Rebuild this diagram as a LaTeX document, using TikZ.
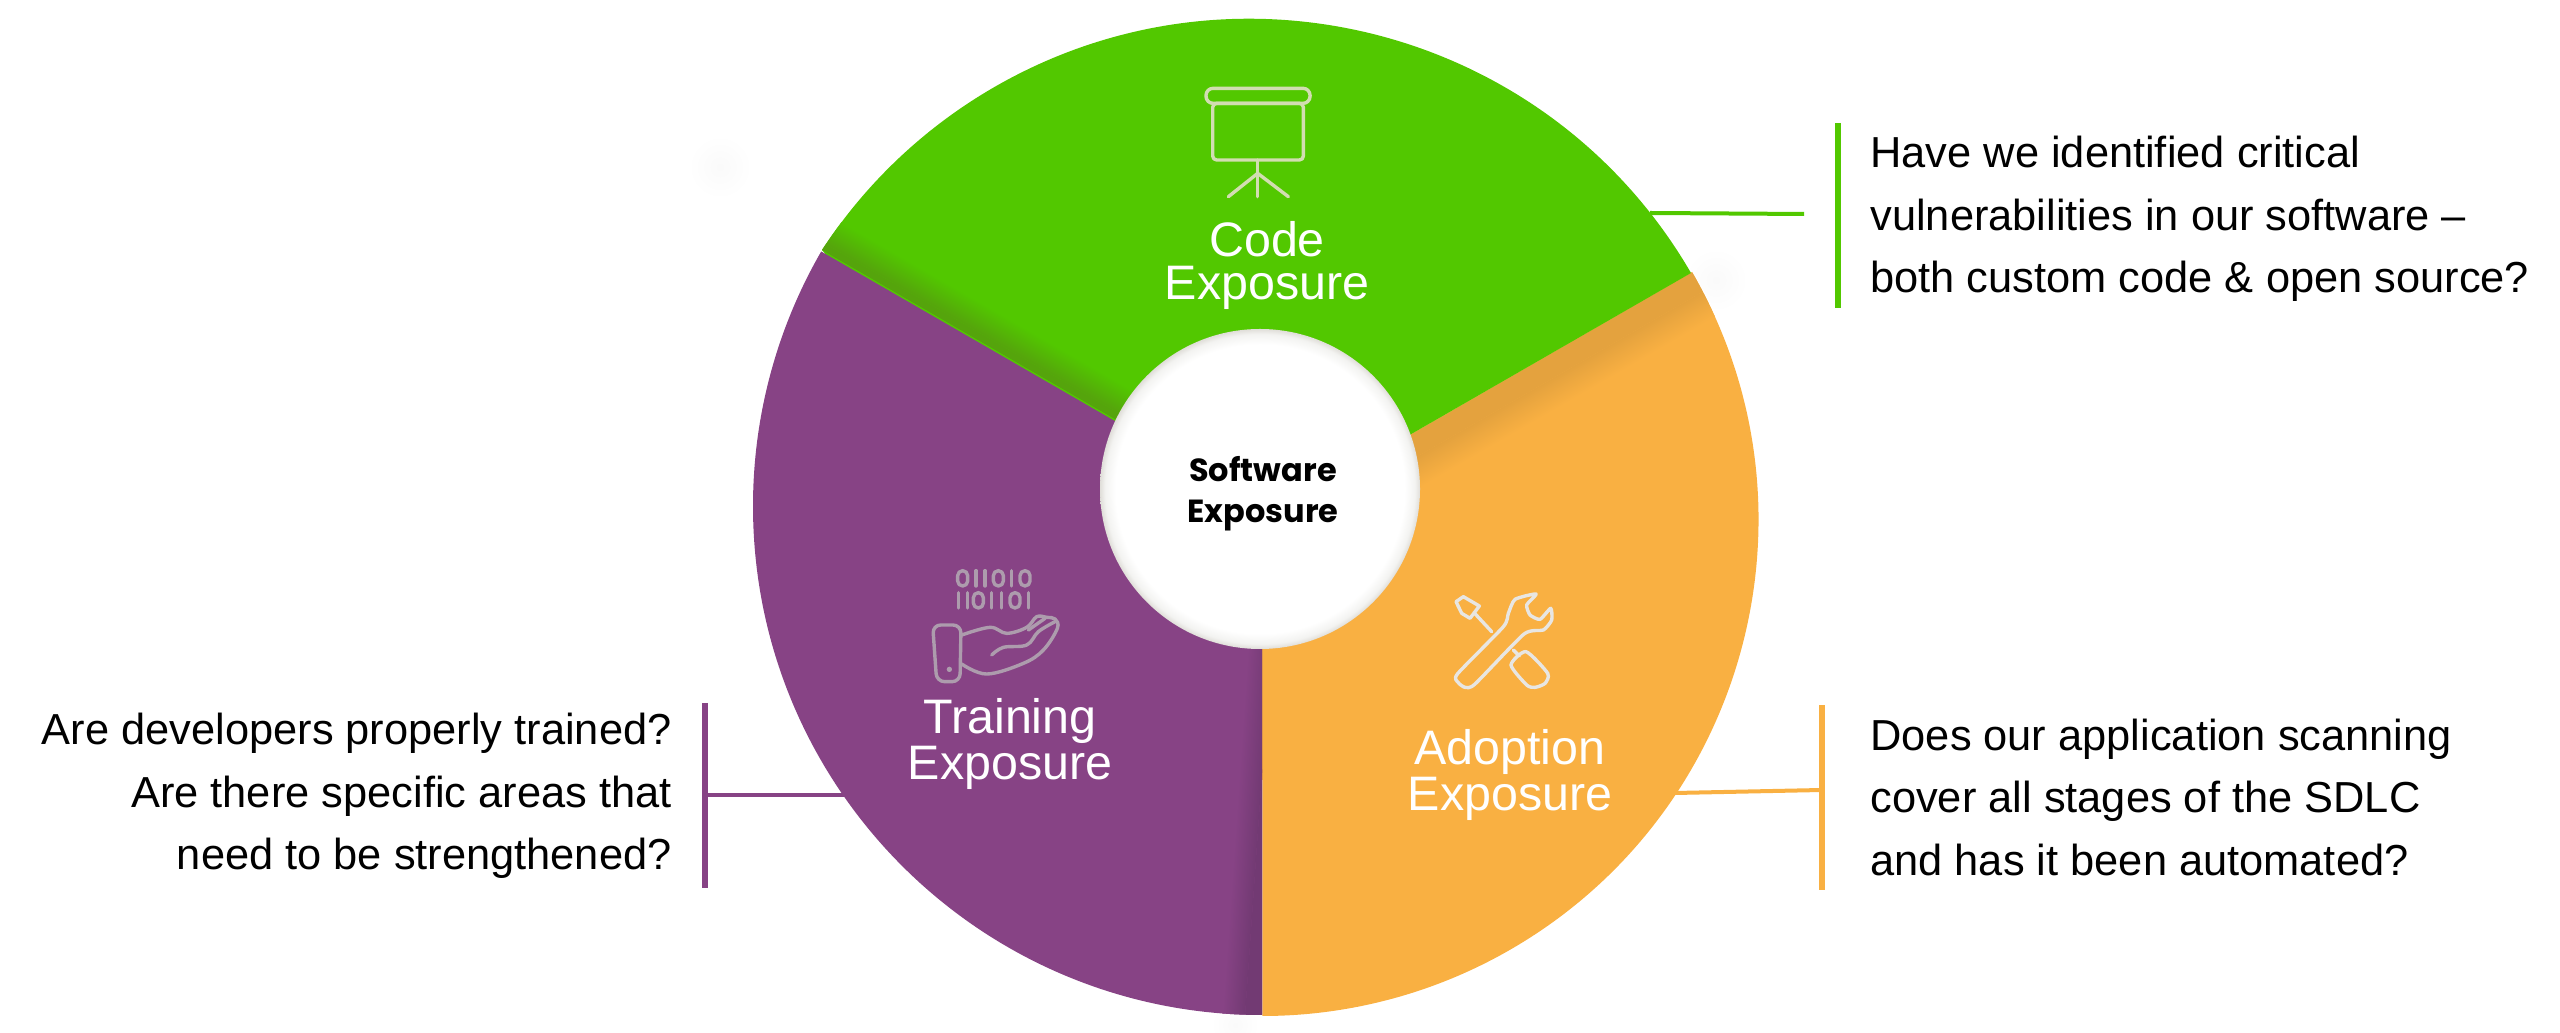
\documentclass[tikz,border=0pt]{standalone}
\usepackage{fontspec}
\setmainfont{Liberation Sans}
\newfontfamily\hubfont{Poppins}
\definecolor{codegreen}{HTML}{52C800}
\definecolor{codedark}{HTML}{55A40C}
\definecolor{trainpurple}{HTML}{874385}
\definecolor{traindark}{HTML}{723A73}
\definecolor{adoptorange}{HTML}{F9B042}
\definecolor{adoptdark}{HTML}{E4A23E}
\definecolor{hubrim}{HTML}{E0DED9}
\definecolor{hubsoft}{HTML}{F3F3F1}
\definecolor{iconcode}{HTML}{D2DDB2}
\definecolor{icontrain}{HTML}{AD9CAD}
\definecolor{iconadopt}{HTML}{E8E6E2}
\pgfdeclareradialshading{hubshade}{\pgfpoint{0bp}{0bp}}{color(0bp)=(white);color(22.6bp)=(white);color(24.2bp)=(hubsoft);color(25bp)=(hubrim);color(50bp)=(hubrim)}
\newcommand{\codepath}{(1262,513) -- (1691,760) arc[start angle=30.15, end angle=146.82, radius=255.35pt] -- (850,750) -- cycle}
\newcommand{\trainpath}{(1262,527) -- (1262,18) arc[start angle=270, end angle=150, radius=254.5pt] -- cycle}
\newcommand{\adoptpath}{(1262,513) -- (1692,761) arc[start angle=30, end angle=-90, radius=248pt] -- cycle}
\begin{document}
\begin{tikzpicture}[
  x=0.5pt, y=0.5pt,
  question/.style={inner sep=0pt, text=black, font=\fontsize{21.7}{31.25}\selectfont},
  sector/.style={inner sep=0pt, text=white, align=center, font=\fontsize{24.2}{21.5}\selectfont},
  bar/.style={line width=2.75pt},
  leader/.style={line width=2pt},
  icon/.style={line width=1.7pt, line join=round, line cap=round},
  halo/.style={inner color=black!2, outer color=white}
]
\useasboundingbox (0,0) rectangle (2560,1033);

% faint smudges round the rim
\shade[halo] (1716,753) circle[radius=32];
\shade[halo] (720,866) circle[radius=32];
\shade[halo] (1235,8) circle[radius=24];

% sectors, each with the shadow along its seam
\fill[adoptorange] \adoptpath;
\begin{scope}
\clip \adoptpath;
\fill[adoptdark, transform canvas={shift={(1691,760)}, rotate=30}] (-700,-22) rectangle (100,0);
\shade[transform canvas={shift={(1691,760)}, rotate=30}, top color=adoptdark, bottom color=adoptorange] (-700,-50) rectangle (100,-22);
\end{scope}

\fill[codegreen] \codepath;
\begin{scope}
\clip \codepath;
\fill[codedark, transform canvas={shift={(822,783)}, rotate=-30}] (-50,0) rectangle (600,7);
\shade[transform canvas={shift={(822,783)}, rotate=-30}, top color=codegreen, bottom color=codedark] (-50,7) rectangle (600,34);
\end{scope}

\fill[trainpurple] \trainpath;
\begin{scope}
\clip \trainpath;
\shade[transform canvas={shift={(1222,18)}, rotate=-4}, left color=trainpurple, right color=traindark] (0,-30) rectangle (23,420);
\fill[traindark, transform canvas={shift={(1222,18)}, rotate=-4}] (23,-30) rectangle (60,420);
\end{scope}

% hub
\node[circle, inner sep=0pt, minimum size=160pt, shading=hubshade] (hub) at (1260,544) {};
\node[align=center, inner sep=0pt, font=\hubfont\bfseries\fontsize{16}{20.5}\selectfont] (hublabel) at (1263,539) {Software\\Exposure};

% sector labels
\node[sector] (codelabel) at (1267,768) {Code\\Exposure};
\node[sector] (trainlabel) at (1010,289) {Training\\Exposure};
\node[sector] (adoptlabel) at (1510,258) {Adoption\\Exposure};

% questions
\node[question, anchor=west, align=left] (codeq) at (1870,814) {Have we identified critical\\vulnerabilities in our software --\\both custom code \& open source?};
\node[question, anchor=east, align=right] (trainq) at (672,237) {Are developers properly trained?\\Are there specific areas that\\need to be strengthened?};
\node[question, anchor=west, align=left] (adoptq) at (1870,236) {Does our application scanning\\cover all stages of the SDLC\\and has it been automated?};

% leaders and bars
\coordinate (codetop) at (1838,910);
\coordinate (codebot) at (1838,725);
\coordinate (codestem) at (1804,819);
\coordinate (coderim) at (1650,820);
\coordinate (traintop) at (705,330);
\coordinate (trainbot) at (705,145);
\coordinate (trainstem) at (705,238);
\coordinate (trainrim) at (845,238);
\coordinate (adopttop) at (1822,328);
\coordinate (adoptbot) at (1822,143);
\coordinate (adoptstem) at (1822,243);
\coordinate (adoptrim) at (1675,240);
\draw[bar, codegreen] (codetop) -- (codebot);
\draw[leader, codegreen] (coderim) -- (codestem);
\draw[bar, trainpurple] (traintop) -- (trainbot);
\draw[leader, trainpurple] (trainstem) -- (trainrim);
\draw[bar, adoptorange] (adopttop) -- (adoptbot);
\draw[leader, adoptorange] (adoptrim) -- (adoptstem);

% projector icon
\begin{scope}[shift={(1100,983)}, x=0.1667pt, y=-0.1667pt, icon, iconcode]
\draw[rounded corners=3.5pt] (318,115) rectangle (630,160);
\draw[rounded corners=2pt] (338,160) rectangle (610,330);
\draw (473,330) -- (473,440);
\draw (385,440) -- (473,370) -- (565,440);
\end{scope}

% binary hand icon
\begin{scope}[shift={(880,493)}, x=0.1667pt, y=-0.1667pt, icon, icontrain]
\foreach \xpos in {248,355,435} \draw[rounded corners=2.5pt] (\xpos-15,92) rectangle (\xpos+15,138);
\foreach \xpos in {288,315,395} \draw (\xpos,92) -- (\xpos,138);
\foreach \xpos in {295,405} \draw[rounded corners=2.5pt] (\xpos-15,158) rectangle (\xpos+15,204);
\foreach \xpos in {235,262,335,365,445} \draw (\xpos,158) -- (\xpos,204);
\draw[rounded corners=4pt] (158,255) -- (243,255) -- (240,425) -- (170,425) -- cycle;
\fill (208,388) circle[radius=8];
\draw plot[smooth, tension=0.6] coordinates {(245,285) (330,262) (380,280) (440,262) (470,230) (500,232) (525,237) (532,265) (490,330) (430,370) (320,402) (245,372)};
\draw plot[smooth, tension=0.6] coordinates {(335,345) (370,322) (440,315) (475,275) (525,245)};
\draw (445,270) -- (495,235);
\end{scope}

% tools icon
\begin{scope}[shift={(1380,463)}, x=0.1667pt, y=-0.1667pt, icon, iconadopt]
\draw (228,95) -- (250,80) -- (298,108) -- (270,145) -- (245,130) -- cycle;
\draw (282,128) -- (335,185);
\draw (400,240) -- (418,258);
\draw plot[smooth cycle, tension=0.4] coordinates {(393,285) (438,245) (503,310) (495,340) (465,352) (440,345)};
\draw plot[smooth cycle, tension=0.35] coordinates {(232,312) (370,170) (385,130) (405,88) (468,72) (440,105) (450,135) (480,148) (512,115) (515,150) (490,180) (432,192) (285,342) (255,352) (235,338)};
\end{scope}
\end{tikzpicture}
\end{document}
